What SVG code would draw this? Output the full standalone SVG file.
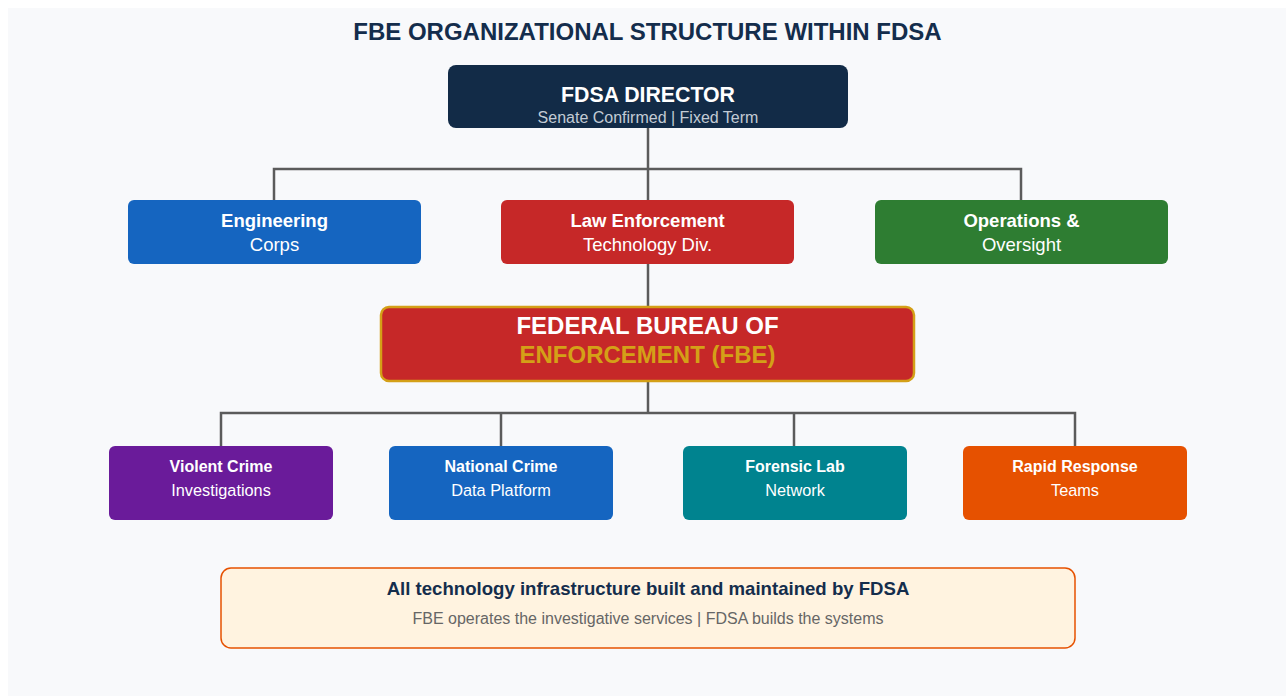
<svg xmlns="http://www.w3.org/2000/svg" width="1286" height="696" viewBox="0 0 1286 696">
<style>
text{font-family:"Liberation Sans",Arial,sans-serif;text-anchor:middle}
.b{font-weight:bold}
.w{fill:#ffffff}
.conn{fill:none;stroke:#5b5b5b;stroke-width:2.5}
</style>
<rect x="0" y="0" width="1286" height="696" fill="#ffffff"/>
<rect x="8" y="8" width="1278" height="688" fill="#f8f9fb"/>
<text x="647.5" y="40" class="b" font-size="24" fill="#142d4c">FBE ORGANIZATIONAL STRUCTURE WITHIN FDSA</text>
<g id="connectors">
<path class="conn" d="M648 128V169M274 200V169H1021V200M648 169V200"/>
<path class="conn" d="M648 264V307"/>
<path class="conn" d="M648 381V413M221 446V413H1075V446M501 413V446M794 413V446"/>
</g>
<g id="director">
<rect x="448" y="65" width="400" height="63" rx="8" fill="#122b47"/>
<text x="648" y="102" class="b w" font-size="21.3">FDSA DIRECTOR</text>
<text x="648" y="123" font-size="16" fill="#c3cbd5">Senate Confirmed | Fixed Term</text>
</g>
<g id="engineering">
<rect x="128" y="200" width="293" height="64" rx="6" fill="#1565c0"/>
<text x="274.5" y="227" class="b w" font-size="18.5">Engineering</text>
<text x="274.5" y="251" class="w" font-size="18.5">Corps</text>
</g>
<g id="law-enforcement">
<rect x="501" y="200" width="293" height="64" rx="6" fill="#c62828"/>
<text x="647.5" y="227" class="b w" font-size="18.5">Law Enforcement</text>
<text x="647.5" y="251" class="w" font-size="18.5">Technology Div.</text>
</g>
<g id="operations">
<rect x="875" y="200" width="293" height="64" rx="6" fill="#2e7d32"/>
<text x="1021.5" y="227" class="b w" font-size="18.5">Operations &amp;</text>
<text x="1021.5" y="251" class="w" font-size="18.5">Oversight</text>
</g>
<g id="fbe">
<rect x="381" y="307" width="533" height="74" rx="8" fill="#c62828" stroke="#d4a017" stroke-width="2.5"/>
<text x="647.5" y="334" class="b w" font-size="24">FEDERAL BUREAU OF</text>
<text x="647.5" y="363" class="b" font-size="24" fill="#d4a017">ENFORCEMENT (FBE)</text>
</g>
<g id="violent-crime">
<rect x="109" y="446" width="224" height="74" rx="6" fill="#6a1b9a"/>
<text x="221" y="472" class="b w" font-size="16">Violent Crime</text>
<text x="221" y="496" class="w" font-size="16.3">Investigations</text>
</g>
<g id="national-crime">
<rect x="389" y="446" width="224" height="74" rx="6" fill="#1565c0"/>
<text x="501" y="472" class="b w" font-size="16">National Crime</text>
<text x="501" y="496" class="w" font-size="16.3">Data Platform</text>
</g>
<g id="forensic-lab">
<rect x="683" y="446" width="224" height="74" rx="6" fill="#00838f"/>
<text x="795" y="472" class="b w" font-size="16">Forensic Lab</text>
<text x="795" y="496" class="w" font-size="16.3">Network</text>
</g>
<g id="rapid-response">
<rect x="963" y="446" width="224" height="74" rx="6" fill="#e65100"/>
<text x="1075" y="472" class="b w" font-size="16">Rapid Response</text>
<text x="1075" y="496" class="w" font-size="16.3">Teams</text>
</g>
<g id="note">
<rect x="221" y="568" width="854" height="80" rx="10" fill="#fff3e0" stroke="#e65100" stroke-width="1.5"/>
<text x="648" y="595" class="b" font-size="18.6" fill="#142d4c">All technology infrastructure built and maintained by FDSA</text>
<text x="648" y="624" font-size="16" fill="#666666">FBE operates the investigative services | FDSA builds the systems</text>
</g>
</svg>
